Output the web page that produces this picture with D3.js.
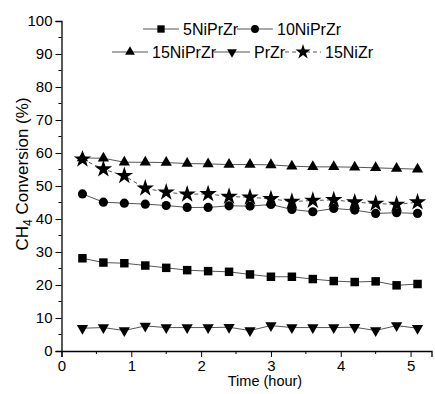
<!DOCTYPE html>
<html><head><meta charset="utf-8">
<script src="https://cdn.jsdelivr.net/npm/d3@7"></script>
<style>body{margin:0;background:#fff}svg{display:block;font-family:Arial,"Liberation Sans",sans-serif}</style>
</head><body><svg id="c" width="435" height="394"></svg>
<script>
const time = [0.3,0.6,0.9,1.2,1.5,1.8,2.1,2.4,2.7,3.0,3.3,3.6,3.9,4.2,4.5,4.8,5.1];
const s5NiPrZr  = [28.1,26.8,26.6,25.9,25.2,24.5,24.2,24.0,23.2,22.5,22.5,21.8,21.2,20.9,21.1,19.9,20.3];
const s10NiPrZr = [47.6,45.1,44.8,44.5,44.1,43.5,43.5,44.0,43.9,44.4,42.9,42.2,43.2,42.7,41.7,41.9,41.7];
const s15NiPrZr = [58.5,58.4,57.2,57.2,57.1,56.8,56.7,56.5,56.5,56.4,56.0,55.8,55.8,55.7,55.5,55.3,55.1];
const sPrZr     = [6.9,7.1,6.2,7.6,7.1,7.1,7.1,7.2,6.2,7.7,7.1,7.1,7.1,7.2,6.2,7.7,6.9];
const s15NiZr   = [58.1,55.1,53.1,49.3,48.1,47.5,47.6,46.8,46.6,46.1,45.3,45.6,45.8,45.1,44.7,44.4,45.1];
const seriesNames = ["5NiPrZr","10NiPrZr","15NiPrZr","PrZr","15NiZr"];
const xTicks = [0,1,2,3,4,5];
const yTicks = [0,10,20,30,40,50,60,70,80,90,100];
const xLabel = "Time (hour)";

const series = [
  {name:seriesNames[0], values:s5NiPrZr,  sym:d3.symbolSquare,   size:72, rot:0,   dash:null},
  {name:seriesNames[1], values:s10NiPrZr, sym:d3.symbolCircle,   size:66, rot:0,   dash:null},
  {name:seriesNames[2], values:s15NiPrZr, sym:d3.symbolTriangle, size:55, rot:0,   dash:null},
  {name:seriesNames[3], values:sPrZr,     sym:d3.symbolTriangle, size:55, rot:180, dash:null},
  {name:seriesNames[4], values:s15NiZr,   sym:d3.symbolStar,     size:95, rot:0,   dash:"4,3"}
];

const svg = d3.select("#c");
const x = d3.scaleLinear().domain([0,5.3]).range([61.5,431.5]);
const y = d3.scaleLinear().domain([0,100]).range([351,21]);

// axes
const xAxis = d3.axisBottom(x).tickValues(xTicks).tickFormat(d3.format("d")).tickSizeOuter(0).tickSize(6).tickPadding(3);
const gx = svg.append("g").attr("transform",`translate(0,${y(0)})`).call(xAxis);
const xMinor = d3.range(0.5,5.3,1);
gx.selectAll(".minor").data(xMinor).enter().append("line").attr("x1",d=>x(d)).attr("x2",d=>x(d)).attr("y1",0).attr("y2",3).attr("stroke","#000");
const yAxis = d3.axisLeft(y).tickValues(yTicks).tickSizeOuter(0).tickSize(6).tickPadding(3);
const gy = svg.append("g").attr("transform",`translate(${x(0)},0)`).call(yAxis);
const yMinor = d3.range(5,100,10);
gy.selectAll(".minor").data(yMinor).enter().append("line").attr("y1",d=>y(d)).attr("y2",d=>y(d)).attr("x1",0).attr("x2",-3).attr("stroke","#000");
[gx,gy].forEach(g=>{
  g.select(".domain").attr("stroke","#000").attr("stroke-width",1.3);
  g.selectAll(".tick line").attr("stroke","#000");
  g.selectAll(".tick text").attr("font-size",15).attr("font-family","Arial, 'Liberation Sans', sans-serif").attr("fill","#000");
});

svg.append("text").attr("x",265).attr("y",386).attr("text-anchor","middle").attr("font-size",14.5).text(xLabel);
const yt = svg.append("text").attr("transform","translate(28,174) rotate(-90)").attr("text-anchor","middle").attr("font-size",17);
yt.append("tspan").text("CH");
yt.append("tspan").attr("font-size",12).attr("dy",4).text("4");
yt.append("tspan").attr("dy",-4).text(" Conversion (%)");

// series
const line = d3.line().x((d,i)=>x(time[i])).y(d=>y(d));
series.forEach(s=>{
  svg.append("path").datum(s.values).attr("d",line).attr("fill","none").attr("stroke","#555").attr("stroke-width",1)
    .attr("stroke-dasharray",s.dash);
  svg.append("g").selectAll("path").data(s.values).enter().append("path")
    .attr("d",d3.symbol().type(s.sym).size(s.size))
    .attr("transform",(d,i)=>`translate(${x(time[i])},${y(d)}) rotate(${s.rot})`)
    .attr("fill","#000");
});

// legend
const legPos = [[143,29],[237,29],[112,52],[214,52],[285,52]];
series.forEach((s,i)=>{
  const [lx,ly] = legPos[i];
  const g = svg.append("g").attr("transform",`translate(${lx},${ly})`);
  g.append("line").attr("x1",0).attr("x2",36).attr("y1",0).attr("y2",0).attr("stroke","#555").attr("stroke-width",1).attr("stroke-dasharray",s.dash);
  g.append("path").attr("d",d3.symbol().type(s.sym).size(s.size*0.75)).attr("transform",`translate(18,0) rotate(${s.rot})`).attr("fill","#000");
  g.append("text").attr("x",40).attr("y",6).attr("font-size",16).text(s.name);
});
</script></body></html>
